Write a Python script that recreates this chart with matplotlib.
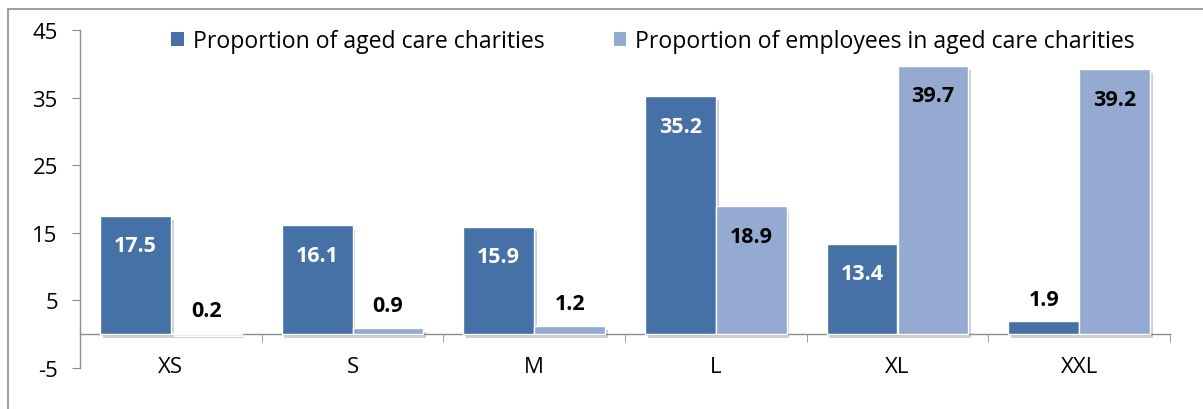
import matplotlib
matplotlib.use("Agg")
import matplotlib.pyplot as plt
import matplotlib.patheffects as pe
from matplotlib.patches import Rectangle
import numpy as np

categories = ["XS", "S", "M", "L", "XL", "XXL"]
charities = [17.5, 16.1, 15.9, 35.2, 13.4, 1.9]
employees = [0.2, 0.9, 1.2, 18.9, 39.7, 39.2]
series_names = ["Proportion of aged care charities",
                "Proportion of employees in aged care charities"]
yticks = [-5, 5, 15, 25, 35, 45]

plt.rcParams['font.family'] = ['Open Sans', 'DejaVu Sans']

W, H = 1203, 410
fig = plt.figure(figsize=(W / 100, H / 100), dpi=100)
ax = fig.add_axes([80 / W, 41 / H, 1090 / W, 338 / H])

dark = "#4571A6"
light = "#94AAD1"
gray = "#8C8C8C"

x = np.arange(len(categories))
bw = 71 / 182
shadow = [pe.SimplePatchShadow(offset=(2, -3), alpha=0.28, shadow_rgbFace="#555555"), pe.Normal()]
b1 = ax.bar(x - bw / 2, charities, bw, color=dark, edgecolor="white", linewidth=1,
            label=series_names[0], path_effects=shadow, zorder=3)
b2 = ax.bar(x + bw / 2, employees, bw, color=light, edgecolor="white", linewidth=1,
            label=series_names[1], path_effects=shadow, zorder=3)

def label(bars, vals, incolor):
    for r, v in zip(bars, vals):
        cx = r.get_x() + r.get_width() / 2
        if v > 5:
            ax.annotate(f"{v:.1f}", (cx, v), xytext=(0, -21.5), textcoords="offset points",
                        ha="center", va="center", color=incolor, fontsize=15.5,
                        fontweight="bold", zorder=5)
        else:
            ax.annotate(f"{v:.1f}", (cx, v), xytext=(0, 16), textcoords="offset points",
                        ha="center", va="center", color="black", fontsize=15.5,
                        fontweight="bold", zorder=5)

label(b1, charities, "white")
label(b2, employees, "black")

ax.set_ylim(-5, 45)
ax.set_xlim(-0.5, len(categories) - 0.5)
ax.set_yticks(yticks)
ax.set_yticklabels([str(t) for t in yticks])
ax.set_xticks(x)
ax.set_xticklabels(categories)
ax.set_xticks(np.arange(len(categories) + 1) - 0.5, minor=True)

for s in ["top", "right"]:
    ax.spines[s].set_visible(False)
ax.spines["bottom"].set_position(("data", 0))
ax.spines["left"].set_color(gray)
ax.spines["bottom"].set_color(gray)
ax.spines["left"].set_linewidth(1)
ax.spines["bottom"].set_linewidth(1)

ax.tick_params(axis="y", direction="out", length=6, color=gray, labelsize=16, pad=10)
ax.tick_params(axis="x", which="major", length=0, labelsize=16, pad=16)
ax.tick_params(axis="x", which="minor", direction="out", length=6, color=gray)

leg = ax.legend(loc="center", bbox_to_anchor=(0.5257, 0.967), ncol=2, frameon=False,
                fontsize=16.6, handlelength=0.53, handleheight=0.53, handletextpad=0.4,
                columnspacing=3.0, borderaxespad=0, borderpad=0)
for h in leg.legend_handles:
    h.set_path_effects([])
    h.set_edgecolor("none")

fig.patches.append(Rectangle((8 / W, -0.1), 1.2, 1 - 10 / H + 0.1, transform=fig.transFigure,
                             fill=False, edgecolor=gray, linewidth=1.2))

fig.savefig("out.png", dpi=100)
